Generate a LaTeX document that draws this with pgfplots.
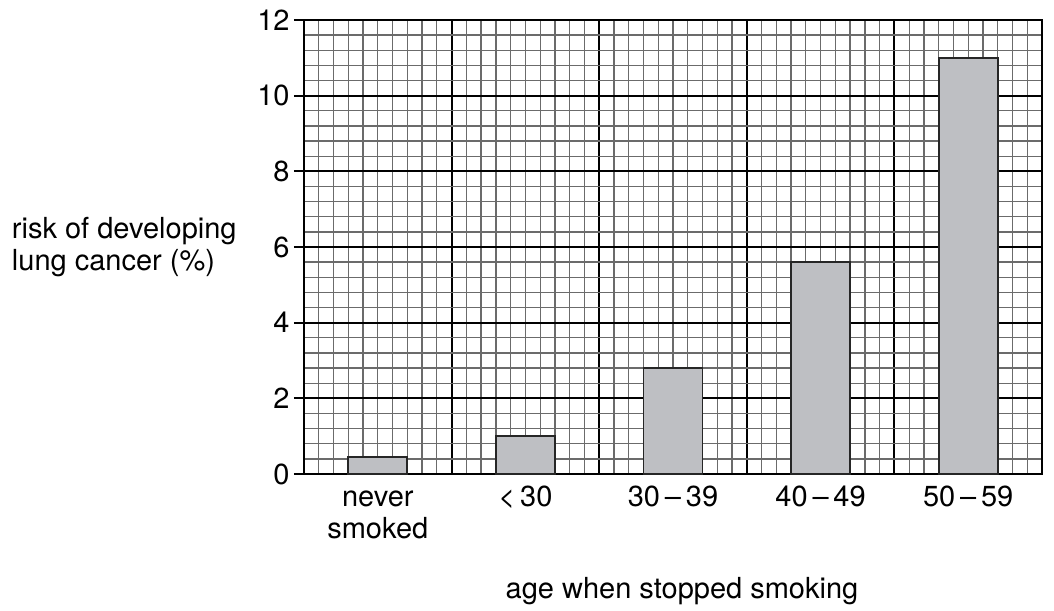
\documentclass[border=0pt]{standalone}
\usepackage{fontspec}
\setmainfont{TeX Gyre Heros}
\usepackage{pgfplots}
\pgfplotsset{compat=1.18}
\definecolor{barfill}{RGB}{190,191,195}
\begin{document}
\begin{tikzpicture}[font=\fontsize{14.5}{16}\selectfont]
\begin{axis}[
  scale only axis,
  width=369pt, height=227pt,
  clip mode=individual,
  xmin=0, xmax=5, ymin=0, ymax=12,
  xtick={0,1,2,3,4,5}, xticklabels={},
  minor x tick num=9,
  ytick={0,2,...,12}, minor y tick num=4,
  /pgf/number format/assume math mode=true,
  grid=both,
  major grid style={black, line width=1pt},
  minor grid style={black!58, line width=0.65pt},
  tick align=outside,
  major tick length=5pt, minor tick length=0pt,
  ytick pos=left, xtick pos=bottom,
  xtick style={draw=none},
  ytick style={black, line width=1pt},
  axis line style={line width=1.3pt},
  tick label style={font=\fontsize{14.5}{16}\selectfont},
  yticklabel style={xshift=1.3pt},
  extra x ticks={0.5,1.5,2.5,3.5,4.5},
  extra x tick labels={\vphantom{0}never\\smoked,<\,30,30\,–\,39,40\,–\,49,50\,–\,59},
  extra x tick style={grid=none, major tick length=0pt,
     xticklabel style={align=center, anchor=north, yshift=-2.2pt}},
  ybar, bar width=0.4,
  xlabel={age when stopped smoking},
  xlabel style={at={(rel axis cs:0.5,0)}, anchor=base, yshift=-62pt, xshift=4.5pt},
]
\addplot[fill=barfill, draw=black!85, line width=0.9pt, bar shift=0pt]
  coordinates {(0.5,0.45) (1.5,1.0) (2.5,2.8) (3.5,5.6) (4.5,11.0)};
\node[anchor=east, align=left, inner sep=0pt, xshift=-33.5pt] at (rel axis cs:0,0.5)
  {risk of developing\\lung cancer (\%)};
\end{axis}
\pgfresetboundingbox
\path ([xshift=-152pt,yshift=-68pt]current axis.south west) rectangle ([xshift=375pt,yshift=237pt]current axis.south west);
\end{tikzpicture}
\end{document}
